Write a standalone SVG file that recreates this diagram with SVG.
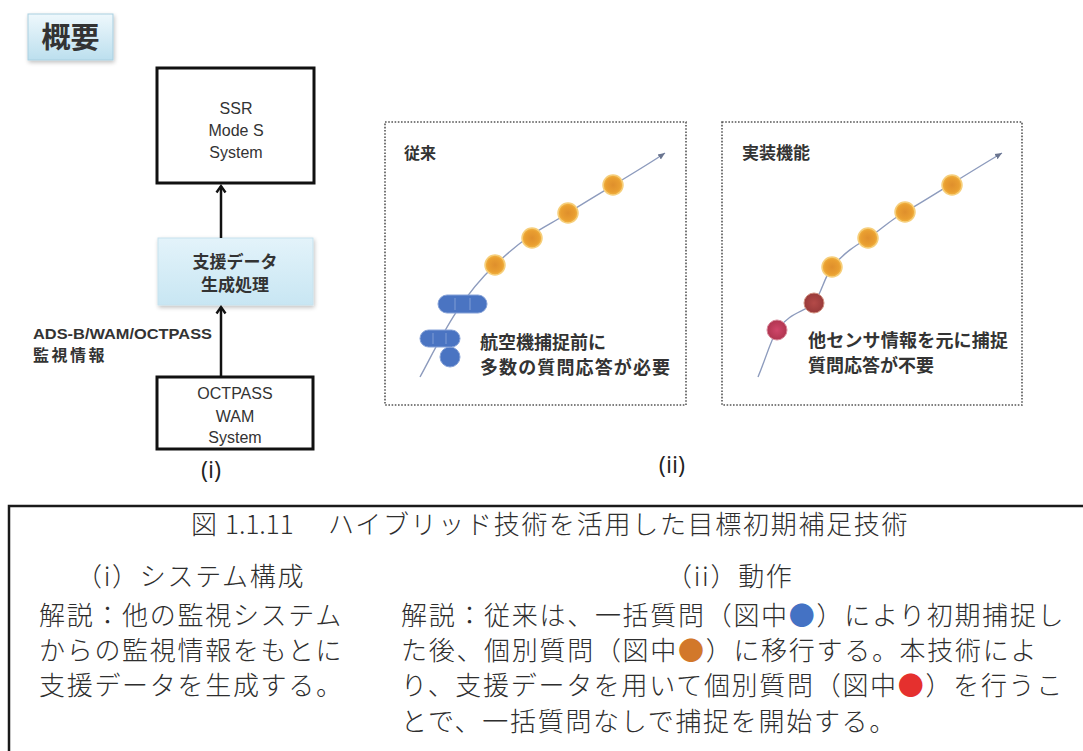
<svg xmlns="http://www.w3.org/2000/svg" width="1083" height="751" viewBox="0 0 1083 751">
  <style>
    .box { fill: #ffffff; stroke: #111111; stroke-width: 3; }
    .lat { font-family: "Liberation Sans", "Noto Sans", sans-serif; font-size: 16px; fill: #333333; text-anchor: middle; }
    .jpb { font-family: "Noto Sans CJK JP", sans-serif; font-weight: bold; fill: #333333; }
    .cap { font-family: "Noto Sans CJK JP", sans-serif; font-weight: 300; font-size: 26px; fill: #2e2e2e; letter-spacing: 1.7px; }
    .conn { stroke: #111111; stroke-width: 2.5; fill: none; }
    .dotbox { fill: #ffffff; stroke: #555555; stroke-width: 1.6; stroke-dasharray: 1.6 1.6; }
    .track { fill: none; stroke: #8d9bbd; stroke-width: 1.4; }
    .blue { fill: #4a74c2; stroke: #86a2d8; stroke-width: 1; }
    .orange { fill: url(#gOrange); stroke: #f6cf7c; stroke-width: 1.5; }
    .num { font-family: "Open Sans", "Liberation Sans", sans-serif; font-size: 24px; fill: #222222; text-anchor: middle; }
  </style>
  <defs>
    <linearGradient id="gOverview" x1="0" y1="0" x2="0" y2="1">
      <stop offset="0" stop-color="#eef8fc"/>
      <stop offset="1" stop-color="#bcdfee"/>
    </linearGradient>
    <linearGradient id="gSupport" x1="0" y1="0" x2="0" y2="1">
      <stop offset="0" stop-color="#e3f3fa"/>
      <stop offset="1" stop-color="#c8e6f3"/>
    </linearGradient>
    <radialGradient id="gOrange" cx="0.5" cy="0.5" r="0.5">
      <stop offset="0" stop-color="#df8f2c"/>
      <stop offset="0.7" stop-color="#e99e30"/>
      <stop offset="1" stop-color="#f2b544"/>
    </radialGradient>
    <radialGradient id="gRed1" cx="0.5" cy="0.5" r="0.5">
      <stop offset="0" stop-color="#d0466a"/>
      <stop offset="1" stop-color="#b03550"/>
    </radialGradient>
    <radialGradient id="gRed2" cx="0.5" cy="0.5" r="0.5">
      <stop offset="0" stop-color="#b44a48"/>
      <stop offset="1" stop-color="#983a3a"/>
    </radialGradient>
    <filter id="soft" x="-10%" y="-10%" width="125%" height="130%">
      <feGaussianBlur in="SourceAlpha" stdDeviation="2"/>
      <feOffset dx="1" dy="2" result="b"/>
      <feComponentTransfer><feFuncA type="linear" slope="0.25"/></feComponentTransfer>
      <feMerge><feMergeNode/><feMergeNode in="SourceGraphic"/></feMerge>
    </filter>
    <marker id="chev" markerWidth="12" markerHeight="12" refX="9" refY="6" orient="auto" markerUnits="userSpaceOnUse" viewBox="0 0 12 12">
      <path d="M2.5,1.5 L9,6 L2.5,10.5" fill="none" stroke="#111111" stroke-width="2.4"/>
    </marker>
    <marker id="tip" markerWidth="8" markerHeight="8" refX="7" refY="4" orient="auto" markerUnits="userSpaceOnUse" viewBox="0 0 8 8">
      <path d="M0,1 L7,4 L0,7 Z" fill="#6a7590"/>
    </marker>
  </defs>

  <rect width="1083" height="751" fill="#ffffff"/>

  <!-- Overview label -->
  <g id="node-overview">
    <rect x="28" y="14" width="85" height="46" fill="url(#gOverview)" stroke="#a9cfe0" stroke-width="1" filter="url(#soft)"/>
    <text x="70.5" y="48" class="jpb" font-size="29" text-anchor="middle">概要</text>
  </g>

  <!-- (i) system configuration -->
  <g id="node-ssr">
    <rect class="box" x="157" y="68" width="157" height="115"/>
    <text class="lat" x="236" y="114">SSR</text>
    <text class="lat" x="236" y="136">Mode S</text>
    <text class="lat" x="236" y="158">System</text>
  </g>

  <g id="node-support">
    <rect x="158" y="238" width="155" height="67" fill="url(#gSupport)" stroke="#c6e2ee" stroke-width="1" filter="url(#soft)"/>
    <text class="jpb" font-size="17" x="235" y="268" text-anchor="middle">支援データ</text>
    <text class="jpb" font-size="17" x="235" y="291" text-anchor="middle">生成処理</text>
  </g>

  <g id="node-octpass">
    <rect class="box" x="157" y="377" width="156" height="72"/>
    <text class="lat" x="235" y="399">OCTPASS</text>
    <text class="lat" x="235" y="422">WAM</text>
    <text class="lat" x="235" y="443">System</text>
  </g>

  <g id="connectors">
    <line class="conn" x1="221" y1="238" x2="221" y2="186" marker-end="url(#chev)"/>
    <line class="conn" x1="221" y1="377" x2="221" y2="307" marker-end="url(#chev)"/>
  </g>

  <g id="label-ads">
    <text x="33" y="339" font-family="Liberation Sans, sans-serif" font-weight="bold" font-size="15" fill="#333333" textLength="179" lengthAdjust="spacingAndGlyphs">ADS-B/WAM/OCTPASS</text>
    <text x="33" y="361" class="jpb" font-size="16" letter-spacing="2.5">監視情報</text>
  </g>

  <text class="num" x="211" y="478">(i)</text>

  <!-- (ii) conventional -->
  <g id="panel-conventional">
    <rect class="dotbox" x="385" y="122" width="301" height="283"/>
    <text class="jpb" font-size="16" x="404" y="159">従来</text>
    <path class="track" d="M420,377 C440,340 458,300 495,265 S545,228 568,213 S640,170 665,153" marker-end="url(#tip)"/>
    <circle class="orange" cx="495" cy="265" r="10"/>
    <circle class="orange" cx="532" cy="238" r="10"/>
    <circle class="orange" cx="568" cy="213" r="10"/>
    <circle class="orange" cx="613" cy="185" r="10"/>
    <rect class="blue" x="438" y="295" width="49" height="18" rx="9"/>
    <line x1="455" y1="298" x2="455" y2="310" stroke="#7f9cd4" stroke-width="1"/>
    <line x1="470" y1="298" x2="470" y2="310" stroke="#7f9cd4" stroke-width="1"/>
    <circle class="blue" cx="450" cy="357" r="10"/>
    <rect class="blue" x="420" y="330" width="40" height="17" rx="8.5"/>
    <line x1="433" y1="333" x2="433" y2="344" stroke="#7f9cd4" stroke-width="1"/>
    <line x1="446" y1="333" x2="446" y2="344" stroke="#7f9cd4" stroke-width="1"/>
    <text class="jpb" font-size="18" x="480" y="349" fill="#3a3a3a">航空機捕捉前に</text>
    <text class="jpb" font-size="18" x="480" y="374" fill="#3a3a3a" textLength="190" lengthAdjust="spacing">多数の質問応答が必要</text>
  </g>

  <!-- (ii) implemented -->
  <g id="panel-implemented">
    <rect class="dotbox" x="722" y="122" width="300" height="283"/>
    <text class="jpb" font-size="17" x="742" y="159">実装機能</text>
    <path class="track" d="M758,377 C766,358 770,342 777,330 C790,312 805,312 814,303 C822,292 824,278 832,267 C845,252 855,246 868,238 S890,220 905,212 S960,178 1002,153" marker-end="url(#tip)"/>
    <circle cx="777" cy="330" r="10" fill="url(#gRed1)" stroke="#d9889a" stroke-width="1"/>
    <circle cx="814" cy="303" r="10" fill="url(#gRed2)" stroke="#d09080" stroke-width="1"/>
    <circle class="orange" cx="832" cy="267" r="10"/>
    <circle class="orange" cx="868" cy="238" r="10"/>
    <circle class="orange" cx="905" cy="212" r="10"/>
    <circle class="orange" cx="952" cy="185" r="10"/>
    <text class="jpb" font-size="18" x="808" y="347" fill="#3a3a3a" textLength="200" lengthAdjust="spacing">他センサ情報を元に捕捉</text>
    <text class="jpb" font-size="18" x="808" y="372" fill="#3a3a3a">質問応答が不要</text>
  </g>

  <text class="num" x="672" y="473">(ii)</text>

  <!-- caption -->
  <g id="caption">
    <rect x="9" y="506" width="1100" height="280" fill="none" stroke="#1a1a1a" stroke-width="2.5"/>
    <text class="cap" font-size="27" y="534" letter-spacing="0.9"><tspan x="191">図</tspan><tspan x="225" letter-spacing="0">1.1.11</tspan><tspan x="328">ハイブリッド技術を活用した目標初期補足技術</tspan></text>
    <text class="cap" x="76" y="586">（i）システム構成</text>
    <text class="cap" x="39" y="625">解説：他の監視システム</text>
    <text class="cap" x="39" y="660">からの監視情報をもとに</text>
    <text class="cap" x="39" y="695">支援データを生成する。</text>
    <text class="cap" x="666" y="586">（ii）動作</text>
    <text class="cap" x="401" y="625">解説：従来は、一括質問（図中<tspan fill="#4472c4">●</tspan>）により初期捕捉し</text>
    <text class="cap" x="401" y="660">た後、個別質問（図中<tspan fill="#d2782a">●</tspan>）に移行する。本技術によ</text>
    <text class="cap" x="401" y="695">り、支援データを用いて個別質問（図中<tspan fill="#e5302e">●</tspan>）を行うこ</text>
    <text class="cap" x="401" y="731">とで、一括質問なしで捕捉を開始する。</text>
  </g>
</svg>
